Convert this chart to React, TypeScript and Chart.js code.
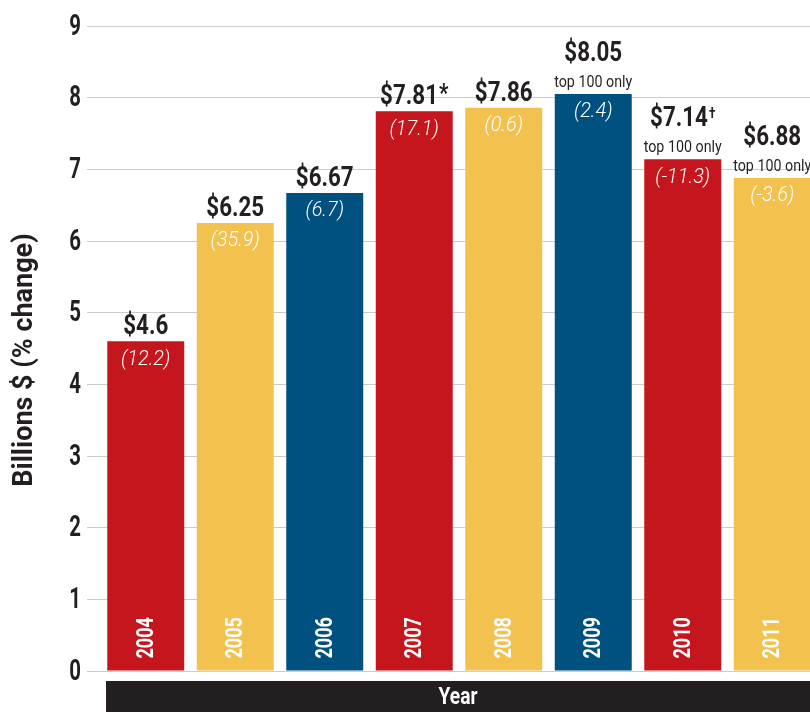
import React, { useEffect, useRef } from "react";
import { Chart, registerables } from "chart.js";

Chart.register(...registerables);

const years = ["2004", "2005", "2006", "2007", "2008", "2009", "2010", "2011"];
const values = [4.6, 6.25, 6.67, 7.81, 7.86, 8.05, 7.14, 6.88];
const valueLabels = ["$4.6", "$6.25", "$6.67", "$7.81", "$7.86", "$8.05", "$7.14", "$6.88"];
const marks = ["", "", "", "*", "", "", "†", ""];
const changes = ["(12.2)", "(35.9)", "(6.7)", "(17.1)", "(0.6)", "(2.4)", "(-11.3)", "(-3.6)"];
const notes = ["", "", "", "", "", "top 100 only", "top 100 only", "top 100 only"];
const yTicks = [0, 1, 2, 3, 4, 5, 6, 7, 8, 9];

const RED = "#C4161C";
const YELLOW = "#F2C14E";
const BLUE = "#00517F";
const INK = "#231F20";
const barColors = [RED, YELLOW, BLUE, RED, YELLOW, BLUE, RED, YELLOW];

const FONT = 'Roboto, "DejaVu Sans", sans-serif';
const VISIBLE_W = 810;

// draw horizontally condensed text
function cText(
  ctx: CanvasRenderingContext2D,
  text: string,
  x: number,
  y: number,
  font: string,
  sx: number,
  align: CanvasTextAlign = "center",
  baseline: CanvasTextBaseline = "alphabetic"
) {
  ctx.save();
  ctx.translate(x, y);
  ctx.scale(sx, 1);
  ctx.font = font;
  ctx.textAlign = align;
  ctx.textBaseline = baseline;
  ctx.fillText(text, 0, 0);
  ctx.restore();
}

function cWidth(ctx: CanvasRenderingContext2D, text: string, font: string, sx: number) {
  ctx.save();
  ctx.font = font;
  const w = ctx.measureText(text).width * sx;
  ctx.restore();
  return w;
}

const VALUE_FONT = `bold 28px ${FONT}`;
const VALUE_SX = 0.8;

const labelPlugin = {
  id: "labels",
  afterDatasetsDraw(chart: any) {
    const ctx: CanvasRenderingContext2D = chart.ctx;
    const meta = chart.getDatasetMeta(0);
    const yScale = chart.scales.y;
    ctx.save();
    // y tick labels
    ctx.fillStyle = INK;
    yTicks.forEach((v) => {
      cText(ctx, String(v), chart.chartArea.left - 20, yScale.getPixelForValue(v) + 1, `bold 30px ${FONT}`, 0.68, "right", "middle");
    });
    meta.data.forEach((bar: any, i: number) => {
      const x = bar.x;
      const top = bar.y;
      const base = bar.base;
      // change inside bar
      ctx.fillStyle = "#ffffff";
      cText(ctx, changes[i], x, top + 18, `italic 300 21px ${FONT}`, 0.95, "center", "middle");
      // year rotated
      ctx.save();
      ctx.translate(x, base - 12);
      ctx.rotate(-Math.PI / 2);
      cText(ctx, years[i], 0, 1, `bold 24px ${FONT}`, 0.75, "left", "middle");
      ctx.restore();
      // note + value above
      ctx.fillStyle = INK;
      let valueY = top - 7;
      if (notes[i]) {
        cText(ctx, notes[i], x, top - 7, `17px ${FONT}`, 0.84, "center", "alphabetic");
        valueY = top - 33;
      }
      const mainW = cWidth(ctx, valueLabels[i], VALUE_FONT, VALUE_SX);
      const markFont = marks[i] === "*" ? `bold 26px ${FONT}` : `bold 15px ${FONT}`;
      const markW = marks[i] ? cWidth(ctx, marks[i], markFont, VALUE_SX) + 1 : 0;
      const startX = x - (mainW + markW) / 2;
      cText(ctx, valueLabels[i], startX, valueY, VALUE_FONT, VALUE_SX, "left", "alphabetic");
      if (marks[i]) {
        cText(ctx, marks[i], startX + mainW + 1, valueY - (marks[i] === "*" ? 2 : 8), markFont, VALUE_SX, "left", "alphabetic");
      }
    });
    // y title
    ctx.save();
    ctx.translate(25, 360);
    ctx.rotate(-Math.PI / 2);
    ctx.fillStyle = INK;
    cText(ctx, "Billions $ (% change)", 0, 0, `bold 27px ${FONT}`, 1.0, "center", "middle");
    ctx.restore();
    // bottom band
    const bandLeft = chart.chartArea.left + 5;
    const bandTop = chart.chartArea.bottom + 10;
    ctx.fillStyle = INK;
    ctx.fillRect(bandLeft, bandTop, chart.width - bandLeft, chart.height - bandTop);
    ctx.fillStyle = "#ffffff";
    cText(ctx, "Year", (bandLeft + VISIBLE_W) / 2, (bandTop + chart.height) / 2 + 1, `bold 24px ${FONT}`, 0.8, "center", "middle");
    ctx.restore();
  },
};

export default function App() {
  const ref = useRef<HTMLCanvasElement>(null);
  useEffect(() => {
    if (!ref.current) return;
    const chart = new Chart(ref.current, {
      type: "bar",
      data: {
        labels: years,
        datasets: [
          {
            data: values,
            backgroundColor: barColors,
            borderWidth: 0,
            barPercentage: 0.86,
            categoryPercentage: 1,
          },
        ],
      },
      options: {
        animation: false,
        responsive: false,
        maintainAspectRatio: false,
        layout: { padding: { top: 26, bottom: 41, right: 1, left: 0 } },
        plugins: { legend: { display: false }, tooltip: { enabled: false } },
        scales: {
          x: { display: false },
          y: {
            min: 0,
            max: 9,
            afterFit: (scale: any) => {
              scale.width = 101;
            },
            afterBuildTicks: (scale: any) => {
              scale.ticks = yTicks.map((v) => ({ value: v }));
            },
            border: { display: false },
            grid: {
              color: "#cccccc",
              lineWidth: 1,
              drawTicks: true,
              tickLength: 14,
              tickColor: "#cccccc",
            },
            ticks: { display: false },
          },
        },
      },
      plugins: [labelPlugin],
    });
    return () => chart.destroy();
  }, []);
  return (
    <div style={{ position: "fixed", left: 0, top: 0, width: VISIBLE_W, height: 712, overflow: "hidden", background: "#fff" }}>
      <canvas ref={ref} width={818} height={712} style={{ display: "block", width: 818, height: 712 }} />
    </div>
  );
}
